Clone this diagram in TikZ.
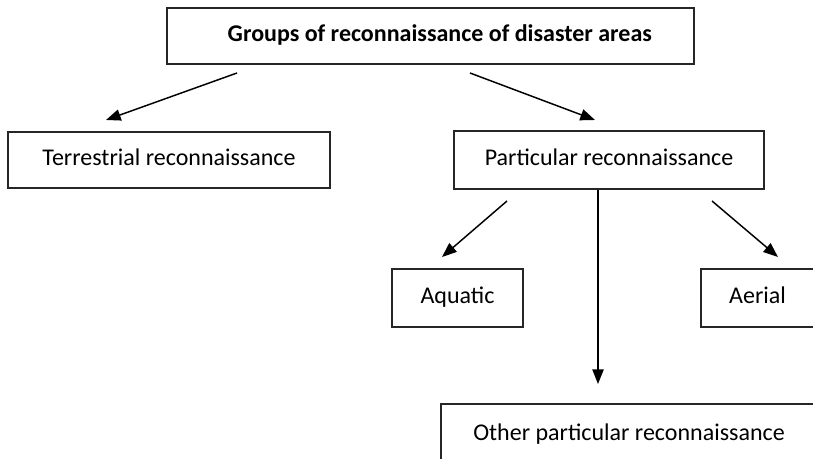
\documentclass[tikz,border=0pt]{standalone}
\usepackage{fontspec}
\setmainfont{Carlito}
\usetikzlibrary{arrows.meta}
\begin{document}
\begin{tikzpicture}[x=0.75pt,y=-0.75pt,
  box/.style={draw=black!85,line width=1.6pt,rectangle,inner sep=0pt,
    text height=12pt,text depth=3.5pt,
    font=\fontsize{18}{22}\selectfont},
  arr/.style={line width=1.1pt,-{Triangle[length=11pt,width=8.5pt]}}]
\clip (0,0) rectangle (813,459);
\fill[white] (0,0) rectangle (813,459);
\node[box,minimum width=527*0.75pt,minimum height=56*0.75pt,font=\fontsize{18}{22}\selectfont\bfseries] (top) at (430.5,36) {\hspace*{14pt}Groups of reconnaissance of disaster areas};
\node[box,minimum width=322*0.75pt,minimum height=56*0.75pt] (terr) at (169,160) {Terrestrial reconnaissance};
\node[box,minimum width=310*0.75pt,minimum height=58*0.75pt] (part) at (609,160) {Particular reconnaissance};
\node[box,minimum width=131*0.75pt,minimum height=58*0.75pt] (aqua) at (457.5,298) {Aquatic};
\node[box,minimum width=113*0.75pt,minimum height=58*0.75pt] (aer) at (757.5,298) {Aerial};
\node[box,minimum width=376*0.75pt,minimum height=62*0.75pt] (oth) at (629,435) {Other particular reconnaissance};
\coordinate (a1s) at (237,73);
\coordinate (a1e) at (106,120);
\coordinate (a2s) at (470,73);
\coordinate (a2e) at (595,120);
\coordinate (a3s) at (507,201);
\coordinate (a3e) at (442,257);
\coordinate (a4s) at (712,201);
\coordinate (a4e) at (778,257);
\coordinate (a5e) at (598,384);
\draw[arr] (a1s) -- (a1e);
\draw[arr] (a2s) -- (a2e);
\draw[arr] (a3s) -- (a3e);
\draw[arr] (a4s) -- (a4e);
\draw[arr] (part.south -| a5e) -- (a5e);
\end{tikzpicture}
\end{document}
